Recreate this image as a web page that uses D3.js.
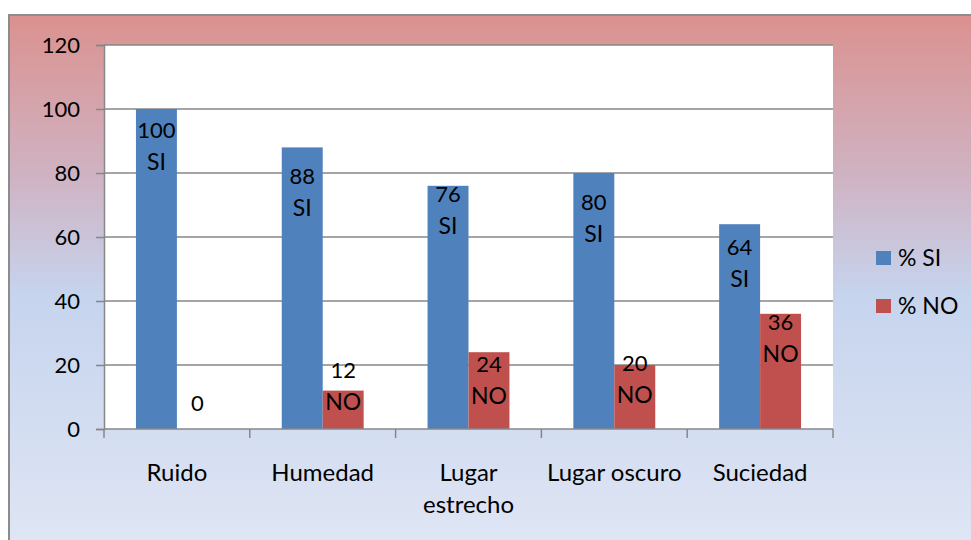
<!DOCTYPE html>
<html>
<head>
<meta charset="utf-8">
<script src="https://cdn.jsdelivr.net/npm/d3@7/dist/d3.min.js"></script>
<style>
  html, body { margin: 0; padding: 0; background: #ffffff; }
  svg { display: block; }
  text { font-family: Lato, "Open Sans", sans-serif; font-size: 22px; fill: #000; }
  .word { font-size: 24px; }
</style>
</head>
<body>
<svg id="chart" width="971" height="540"></svg>
<script>
// Categories and series
const categories = ["Ruido", "Humedad", "Lugar estrecho", "Lugar oscuro", "Suciedad"];
const categoryLines = [["Ruido"], ["Humedad"], ["Lugar", "estrecho"], ["Lugar oscuro"], ["Suciedad"]];
const seriesNames = ["% SI", "% NO"];
const seriesTags = ["SI", "NO"];
const valuesSI = [100, 88, 76, 80, 64];
const valuesNO = [0, 12, 24, 20, 36];
const yTicks = [0, 20, 40, 60, 80, 100, 120];

// Label nudges (px, first-line centre relative to bar top)
const nudgeSI = [21, 29, 8, 29, 23];
const nudgeNO = [-26, -21, 12, -2, 8];

const colors = ["#4F81BD", "#C0504D"];

const svg = d3.select("#chart");

// Chart background with vertical gradient
const defs = svg.append("defs");
const grad = defs.append("linearGradient")
  .attr("id", "bg").attr("x1", 0).attr("y1", 0).attr("x2", 0).attr("y2", 1);
grad.append("stop").attr("offset", "0%").attr("stop-color", "#DB918F");
grad.append("stop").attr("offset", "30%").attr("stop-color", "#CFB3C3");
grad.append("stop").attr("offset", "52%").attr("stop-color", "#C6D4EE");
grad.append("stop").attr("offset", "100%").attr("stop-color", "#E0E6F4");

svg.append("rect")
  .attr("x", 9).attr("y", 15).attr("width", 980).attr("height", 540)
  .attr("fill", "url(#bg)")
  .attr("stroke", "#8C8C8C").attr("stroke-width", 2);

// Plot area
const plot = { left: 104, right: 833, top: 45, bottom: 429 };

svg.append("rect")
  .attr("x", plot.left).attr("y", plot.top)
  .attr("width", plot.right - plot.left).attr("height", plot.bottom - plot.top)
  .attr("fill", "#ffffff");

const x0 = d3.scaleBand().domain(categories).range([plot.left, plot.right]).padding(0);
const x1 = d3.scaleBand().domain(seriesNames).range([0, x0.bandwidth()])
  .paddingInner(0).paddingOuter(0.78);
const y = d3.scaleLinear().domain([0, 120]).range([plot.bottom, plot.top]);

// Gridlines
svg.append("g").selectAll("line").data(yTicks.filter(t => t > 0)).join("line")
  .attr("x1", plot.left).attr("x2", plot.right)
  .attr("y1", d => y(d)).attr("y2", d => y(d))
  .attr("stroke", "#878787").attr("stroke-width", 1.5);

// Y axis
const yAxis = svg.append("g")
  .attr("transform", `translate(${plot.left},0)`)
  .call(d3.axisLeft(y).tickValues(yTicks).tickSize(8).tickPadding(16));
yAxis.select(".domain").attr("stroke", "#878787").attr("stroke-width", 1.5);
yAxis.selectAll(".tick line").attr("stroke", "#878787").attr("stroke-width", 1.5);
yAxis.selectAll(".tick text")
  .style("font-family", "Lato, 'Open Sans', sans-serif").style("font-size", "22px")
  .attr("fill", "#000").attr("dy", "0.36em");

// Bars
const rows = categories.map((c, i) => ({ cat: c, i, vals: [valuesSI[i], valuesNO[i]] }));
const groups = svg.append("g").selectAll("g").data(rows).join("g")
  .attr("transform", d => `translate(${x0(d.cat)},0)`);

groups.selectAll("rect").data(d => d.vals.map((v, s) => ({ v, s }))).join("rect")
  .attr("x", d => x1(seriesNames[d.s]))
  .attr("width", x1.bandwidth())
  .attr("y", d => y(d.v))
  .attr("height", d => y(0) - y(d.v))
  .attr("fill", d => colors[d.s]);

// X axis
const xAxis = svg.append("g")
  .attr("transform", `translate(0,${plot.bottom})`);
xAxis.append("line")
  .attr("x1", plot.left).attr("x2", plot.right)
  .attr("stroke", "#878787").attr("stroke-width", 1.5);
const edges = categories.map(c => x0(c)).concat([x0(categories[categories.length - 1]) + x0.bandwidth()]);
xAxis.selectAll("line.tk").data(edges).join("line").attr("class", "tk")
  .attr("x1", d => d).attr("x2", d => d).attr("y1", 0).attr("y2", 9)
  .attr("stroke", "#878787").attr("stroke-width", 1.5);

// Category labels
const catText = svg.append("g").selectAll("text").data(categoryLines).join("text")
  .attr("class", "word")
  .attr("text-anchor", "middle")
  .attr("x", (d, i) => x0(categories[i]) + x0.bandwidth() / 2)
  .attr("y", 472);
catText.selectAll("tspan").data(d => d).join("tspan")
  .attr("x", function () { return this.parentNode.getAttribute("x"); })
  .attr("dy", (d, j) => j === 0 ? "0.36em" : "32")
  .text(d => d);

// Data labels: value on the first line, series tag on the second (omitted for zero)
const labelData = [];
categories.forEach((c, i) => {
  [valuesSI[i], valuesNO[i]].forEach((v, s) => {
    const nudge = s === 0 ? nudgeSI[i] : nudgeNO[i];
    labelData.push({
      x: x0(c) + x1(seriesNames[s]) + x1.bandwidth() / 2,
      top: y(v) + nudge,
      lines: v === 0 ? [String(v)] : [String(v), seriesTags[s]]
    });
  });
});
const lbl = svg.append("g").selectAll("text").data(labelData).join("text")
  .attr("text-anchor", "middle")
  .attr("x", d => d.x).attr("y", d => d.top);
lbl.selectAll("tspan").data(d => d.lines.map((t, j) => ({ t, j, x: d.x }))).join("tspan")
  .attr("x", d => d.x)
  .attr("dy", d => d.j === 0 ? "0.36em" : "32")
  .style("font-size", d => d.j === 0 ? "22px" : "23px")
  .text(d => d.t);

// Legend
const legend = svg.append("g").selectAll("g").data(seriesNames).join("g")
  .attr("transform", (d, i) => `translate(876,${251 + i * 48})`);
legend.append("rect").attr("width", 15).attr("height", 14).attr("fill", (d, i) => colors[i]);
legend.append("text").attr("x", 22).attr("y", 7).attr("dy", "0.36em")
  .style("font-size", "23px").text(d => d);
</script>
</body>
</html>
